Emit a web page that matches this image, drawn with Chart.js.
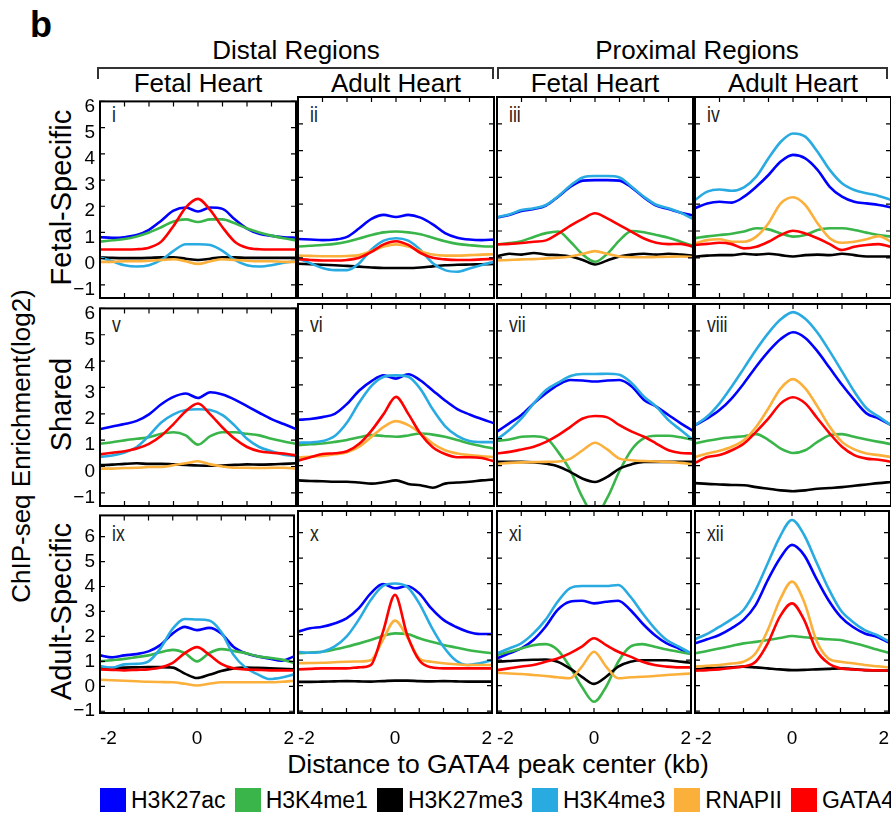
<!DOCTYPE html>
<html><head><meta charset="utf-8">
<script src="https://cdn.jsdelivr.net/npm/chart.js@4.4.1/dist/chart.umd.min.js"></script>
<style>
html,body{margin:0;padding:0;background:#fff;}
body{width:891px;height:817px;position:relative;overflow:hidden;font-family:"Liberation Sans",Arial,sans-serif;color:#000;}
canvas{position:absolute;}
.t{position:absolute;white-space:nowrap;}
.legend{position:absolute;left:100px;top:788px;display:flex;align-items:center;font-size:23px;line-height:24px;}
.legend .it{display:flex;align-items:center;margin-right:9px;}
.legend .bx{width:26px;height:24px;margin-right:5px;}
</style></head><body>
<script>
// ---------------- data ----------------
const xs = [-2,-1.75,-1.5,-1.25,-1,-0.75,-0.5,-0.25,0,0.25,0.5,0.75,1,1.25,1.5,1.75,2];
const seriesNames = ['H3K27ac','H3K4me1','H3K27me3','H3K4me3','RNAPII','GATA4'];
const seriesColors = ['#0000ff','#39b54a','#000000','#29abe2','#fbb03b','#ff0000'];
const yTicks = [-1,0,1,2,3,4,5,6];
const xTicks = [-2,0,2];
const xMinorTicks = [-2,-1.5,-1,-0.5,0,0.5,1,1.5,2];
const panelLabels = ['i','ii','iii','iv','v','vi','vii','viii','ix','x','xi','xii'];
const groupHeaders = ['Distal Regions','Proximal Regions'];
const colHeaders = ['Fetal Heart','Adult Heart','Fetal Heart','Adult Heart'];
const rowLabels = ['Fetal-Specific','Shared','Adult-Specific'];
const yTitle = 'ChIP-seq Enrichment(log2)';
const xTitle = 'Distance to GATA4 peak center (kb)';

// Row 1: Fetal-Specific
const i_H3K27ac  = [0.82,0.8,0.82,0.9,1.1,1.45,1.83,1.95,1.8,1.95,1.9,1.5,1.15,0.95,0.87,0.82,0.8];
const i_H3K4me1  = [0.65,0.7,0.75,0.85,1.0,1.2,1.42,1.5,1.4,1.5,1.5,1.35,1.15,1.0,0.88,0.78,0.7];
const i_H3K27me3 = [0.05,0.03,0.02,0.02,0.03,0.05,0.05,0.0,-0.05,0.0,0.05,0.05,0.03,0.03,0.03,0.03,0.03];
const i_H3K4me3  = [0.05,-0.1,-0.25,-0.3,-0.25,-0.05,0.3,0.55,0.55,0.52,0.3,-0.05,-0.25,-0.3,-0.25,-0.15,-0.1];
const i_RNAPII   = [-0.12,-0.12,-0.1,-0.1,-0.08,-0.05,-0.02,-0.1,-0.2,-0.1,-0.02,-0.05,-0.08,-0.1,-0.1,-0.12,-0.12];
const i_GATA4    = [0.35,0.35,0.35,0.36,0.42,0.65,1.25,1.95,2.28,1.85,1.2,0.65,0.42,0.36,0.35,0.35,0.35];

const ii_H3K27ac  = [0.7,0.68,0.66,0.68,0.78,1.1,1.45,1.6,1.52,1.6,1.5,1.25,0.92,0.75,0.68,0.66,0.68];
const ii_H3K4me1  = [0.42,0.45,0.48,0.52,0.6,0.72,0.85,0.95,0.98,0.95,0.88,0.75,0.62,0.52,0.47,0.43,0.42];
const ii_H3K27me3 = [-0.22,-0.24,-0.26,-0.28,-0.3,-0.33,-0.36,-0.38,-0.38,-0.38,-0.36,-0.32,-0.28,-0.26,-0.25,-0.24,-0.23];
const ii_H3K4me3  = [-0.02,-0.2,-0.38,-0.46,-0.46,-0.2,0.31,0.64,0.73,0.64,0.29,-0.2,-0.46,-0.52,-0.4,-0.27,-0.15];
const ii_RNAPII   = [0.08,0.07,0.06,0.06,0.07,0.1,0.25,0.42,0.5,0.42,0.25,0.12,0.08,0.08,0.1,0.12,0.13];
const ii_GATA4    = [-0.05,-0.08,-0.1,-0.1,-0.08,0.0,0.22,0.5,0.62,0.48,0.18,0.0,-0.06,-0.08,-0.08,-0.06,-0.04];

const iii_H3K27ac  = [1.5,1.6,1.75,1.82,1.95,2.28,2.65,2.88,2.9,2.9,2.88,2.62,2.25,1.95,1.82,1.68,1.58];
const iii_H3K4me1  = [0.5,0.55,0.62,0.78,0.92,0.98,0.6,0.12,-0.15,0.15,0.65,1.0,0.95,0.85,0.75,0.6,0.45];
const iii_H3K27me3 = [0.05,0.15,0.12,0.18,0.12,0.1,0.05,-0.08,-0.25,-0.1,0.05,0.12,0.15,0.12,0.15,0.12,0.08];
const iii_H3K4me3  = [1.52,1.62,1.78,1.85,1.97,2.3,2.7,3.0,3.05,3.05,3.0,2.65,2.28,1.98,1.85,1.68,1.45];
const iii_RNAPII   = [-0.1,-0.08,-0.06,-0.05,-0.02,0.0,0.05,0.15,0.25,0.15,0.05,0.02,0.02,0.03,0.04,0.05,0.03];
const iii_GATA4    = [0.5,0.52,0.55,0.6,0.65,0.9,1.2,1.45,1.66,1.47,1.22,0.97,0.72,0.56,0.51,0.52,0.42];

const iv_H3K27ac  = [1.85,2.03,2.09,2.06,2.28,2.65,3.09,3.59,3.84,3.71,3.28,2.65,2.28,2.09,2.03,1.97,1.88];
const iv_H3K4me1  = [0.73,0.8,0.85,0.9,0.98,1.1,1.06,0.91,0.79,0.85,1.04,1.1,1.1,1.04,0.94,0.85,0.79];
const iv_H3K27me3 = [0.05,0.08,0.1,0.1,0.15,0.12,0.15,0.1,0.05,0.1,0.12,0.1,0.15,0.1,0.05,0.05,0.05];
const iv_H3K4me3  = [2.16,2.47,2.55,2.5,2.63,3.03,3.71,4.33,4.64,4.52,3.96,3.28,2.78,2.53,2.41,2.31,2.16];
const iv_RNAPII   = [0.54,0.66,0.69,0.6,0.6,0.79,1.29,2.03,2.26,1.97,1.29,0.73,0.56,0.6,0.69,0.81,0.6];
const iv_GATA4    = [0.48,0.52,0.56,0.51,0.35,0.41,0.6,0.85,1.01,0.91,0.73,0.51,0.29,0.41,0.48,0.51,0.41];

// Row 2: Shared
const v_H3K27ac  = [1.42,1.52,1.61,1.73,1.98,2.36,2.64,2.77,2.6,2.82,2.73,2.54,2.29,2.04,1.8,1.61,1.42];
const v_H3K4me1  = [0.86,0.92,0.99,1.05,1.11,1.24,1.3,1.18,0.83,1.15,1.3,1.3,1.24,1.18,1.05,0.95,0.86];
const v_H3K27me3 = [0.05,0.07,0.1,0.12,0.1,0.1,0.08,0.06,0.04,0.03,0.04,0.06,0.08,0.07,0.08,0.1,0.12];
const v_H3K4me3  = [0.36,0.42,0.53,0.74,1.17,1.67,1.98,2.14,2.17,2.14,1.95,1.55,1.05,0.74,0.58,0.45,0.4];
const v_RNAPII   = [-0.08,-0.08,-0.06,-0.05,-0.02,-0.02,0.05,0.12,0.2,0.08,0.0,-0.05,-0.05,-0.06,-0.05,-0.05,-0.08];
const v_GATA4    = [0.46,0.52,0.58,0.68,0.86,1.17,1.61,2.1,2.39,1.98,1.48,1.05,0.74,0.58,0.52,0.49,0.42];

const vi_H3K27ac  = [1.7,1.73,1.8,1.92,2.29,2.79,3.14,3.35,3.23,3.39,3.16,2.79,2.42,2.1,1.9,1.73,1.57];
const vi_H3K4me1  = [0.76,0.79,0.82,0.88,0.95,1.05,1.13,1.1,1.07,1.12,1.19,1.15,1.07,0.95,0.82,0.72,0.63];
const vi_H3K27me3 = [-0.55,-0.57,-0.58,-0.6,-0.6,-0.63,-0.67,-0.62,-0.55,-0.68,-0.73,-0.82,-0.67,-0.63,-0.6,-0.55,-0.51];
const vi_H3K4me3  = [0.85,0.86,0.91,1.1,1.6,2.34,2.96,3.3,3.35,3.3,2.84,2.09,1.47,1.1,0.91,0.87,0.87];
const vi_RNAPII   = [0.3,0.33,0.36,0.42,0.5,0.7,1.07,1.44,1.65,1.5,1.19,0.82,0.57,0.45,0.39,0.35,0.32];
const vi_GATA4    = [0.18,0.31,0.43,0.46,0.53,0.81,1.3,1.92,2.55,1.92,1.18,0.68,0.43,0.31,0.31,0.28,0.16];

const vii_H3K27ac  = [1.26,1.57,1.88,2.31,2.69,3.0,3.18,3.16,3.12,3.16,3.18,2.94,2.44,2.19,1.88,1.57,1.29];
const vii_H3K4me1  = [0.92,0.97,1.07,1.09,1.02,0.5,-0.2,-1.2,-1.85,-1.2,-0.2,0.6,1.02,1.11,1.11,1.05,0.95];
const vii_H3K27me3 = [0.14,0.14,0.14,0.12,0.07,-0.03,-0.24,-0.49,-0.61,-0.42,-0.11,0.05,0.14,0.14,0.14,0.14,0.14];
const vii_H3K4me3  = [0.97,1.32,1.75,2.31,2.81,3.08,3.33,3.4,3.4,3.41,3.37,3.06,2.56,2.19,1.69,1.32,0.95];
const vii_RNAPII   = [0.07,0.1,0.12,0.13,0.14,0.15,0.26,0.57,0.85,0.6,0.26,0.2,0.17,0.15,0.14,0.1,0.05];
const vii_GATA4    = [0.45,0.51,0.6,0.7,0.88,1.13,1.44,1.75,1.84,1.79,1.5,1.26,1.07,0.82,0.57,0.47,0.45];

const viii_H3K27ac  = [1.5,1.75,2.06,2.5,3.06,3.68,4.24,4.7,4.95,4.74,4.24,3.62,3.0,2.44,1.94,1.75,1.5];
const viii_H3K4me1  = [0.82,0.92,1.0,1.05,1.09,1.17,0.95,0.63,0.47,0.57,0.88,1.13,1.17,1.07,0.97,0.88,0.8];
const viii_H3K27me3 = [-0.65,-0.68,-0.7,-0.72,-0.73,-0.8,-0.86,-0.92,-0.95,-0.92,-0.86,-0.83,-0.8,-0.75,-0.7,-0.65,-0.61];
const viii_H3K4me3  = [1.5,1.82,2.31,2.94,3.62,4.31,4.93,5.43,5.7,5.45,4.93,4.24,3.5,2.75,2.13,1.82,1.5];
const viii_RNAPII   = [0.32,0.45,0.55,0.7,0.95,1.44,2.13,2.87,3.21,2.87,2.19,1.44,0.88,0.6,0.45,0.39,0.32];
const viii_GATA4    = [0.1,0.32,0.39,0.57,0.82,1.26,1.75,2.31,2.54,2.31,1.75,1.19,0.7,0.39,0.26,0.22,0.14];

// Row 3: Adult-Specific
const ix_H3K27ac  = [1.24,1.16,1.24,1.29,1.4,1.66,2.12,2.38,2.25,2.34,2.12,1.59,1.33,1.2,1.11,1.03,1.2];
const ix_H3K4me1  = [1.0,1.05,1.1,1.17,1.24,1.37,1.46,1.33,1.0,1.33,1.49,1.42,1.33,1.2,1.14,1.07,0.94];
const ix_H3K27me3 = [0.72,0.73,0.75,0.76,0.77,0.77,0.75,0.51,0.33,0.46,0.61,0.72,0.75,0.74,0.72,0.7,0.68];
const ix_H3K4me3  = [0.81,0.75,0.88,0.9,1.0,1.53,2.31,2.7,2.68,2.64,2.18,1.27,0.75,0.48,0.29,0.35,0.48];
const ix_RNAPII   = [0.26,0.24,0.22,0.2,0.18,0.17,0.16,0.1,0.03,0.1,0.16,0.16,0.16,0.16,0.16,0.18,0.22];
const ix_GATA4    = [0.68,0.66,0.64,0.66,0.68,0.75,0.94,1.33,1.57,1.27,0.9,0.72,0.68,0.66,0.64,0.64,0.64];

const x_H3K27ac  = [2.12,2.25,2.31,2.44,2.64,3.03,3.62,3.99,3.82,3.91,3.62,3.03,2.58,2.31,2.12,2.03,2.03];
const x_H3K4me1  = [1.27,1.3,1.33,1.42,1.53,1.65,1.79,1.95,2.05,2.03,1.86,1.72,1.6,1.5,1.4,1.33,1.27];
const x_H3K27me3 = [0.15,0.15,0.16,0.17,0.18,0.17,0.16,0.18,0.2,0.2,0.18,0.17,0.18,0.17,0.16,0.16,0.16];
const x_H3K4me3  = [1.33,1.29,1.33,1.53,1.92,2.58,3.36,3.91,4.01,3.88,3.23,2.31,1.53,1.0,0.81,0.88,1.0];
const x_RNAPII   = [0.88,0.89,0.9,0.92,0.94,0.95,1.0,1.79,2.55,1.92,1.07,0.94,0.88,0.84,0.81,0.81,0.81];
const x_GATA4    = [0.64,0.66,0.68,0.68,0.68,0.72,0.81,2.1,3.56,2.0,1.0,0.72,0.68,0.68,0.68,0.68,0.68];

const xi_H3K27ac  = [1.07,1.27,1.46,1.79,2.31,2.97,3.29,3.33,3.23,3.29,3.33,2.97,2.44,1.99,1.66,1.46,1.24];
const xi_H3K4me1  = [1.2,1.33,1.46,1.59,1.63,1.4,0.75,-0.04,-0.63,-0.04,0.94,1.53,1.63,1.53,1.42,1.33,1.24];
const xi_H3K27me3 = [0.94,0.97,1.0,1.02,1.03,0.94,0.68,0.35,0.07,0.35,0.75,0.94,1.0,1.0,1.0,0.95,0.9];
const xi_H3K4me3  = [1.27,1.46,1.66,2.05,2.58,3.29,3.82,3.91,3.91,3.91,3.95,3.49,2.84,2.25,1.79,1.53,1.27];
const xi_RNAPII   = [0.51,0.48,0.46,0.42,0.38,0.33,0.29,0.75,1.33,0.75,0.29,0.33,0.35,0.38,0.42,0.45,0.48];
const xi_GATA4    = [0.61,0.68,0.75,0.81,0.94,1.07,1.27,1.53,1.86,1.59,1.33,1.14,0.94,0.81,0.75,0.72,0.72];

const xii_H3K27ac  = [1.66,1.82,1.99,2.25,2.58,3.16,4.14,4.99,5.52,5.12,4.21,3.36,2.71,2.31,2.05,1.92,1.69];
const xii_H3K4me1  = [1.27,1.36,1.46,1.56,1.66,1.72,1.79,1.87,1.95,1.9,1.86,1.82,1.79,1.68,1.56,1.42,1.29];
const xii_H3K27me3 = [0.64,0.68,0.7,0.72,0.75,0.72,0.68,0.64,0.61,0.62,0.64,0.66,0.68,0.65,0.61,0.6,0.59];
const xii_H3K4me3  = [1.82,2.03,2.31,2.6,2.97,3.75,4.8,5.84,6.5,5.91,4.86,3.82,2.97,2.51,2.18,1.99,1.73];
const xii_RNAPII   = [0.75,0.78,0.81,0.87,0.94,1.27,2.18,3.36,4.08,3.29,1.79,1.07,0.94,0.88,0.81,0.76,0.72];
const xii_GATA4    = [0.59,0.61,0.64,0.7,0.75,0.94,1.66,2.71,3.23,2.58,1.4,0.88,0.68,0.64,0.61,0.6,0.59];

const panelSeries = [
  [i_H3K27ac,i_H3K4me1,i_H3K27me3,i_H3K4me3,i_RNAPII,i_GATA4],
  [ii_H3K27ac,ii_H3K4me1,ii_H3K27me3,ii_H3K4me3,ii_RNAPII,ii_GATA4],
  [iii_H3K27ac,iii_H3K4me1,iii_H3K27me3,iii_H3K4me3,iii_RNAPII,iii_GATA4],
  [iv_H3K27ac,iv_H3K4me1,iv_H3K27me3,iv_H3K4me3,iv_RNAPII,iv_GATA4],
  [v_H3K27ac,v_H3K4me1,v_H3K27me3,v_H3K4me3,v_RNAPII,v_GATA4],
  [vi_H3K27ac,vi_H3K4me1,vi_H3K27me3,vi_H3K4me3,vi_RNAPII,vi_GATA4],
  [vii_H3K27ac,vii_H3K4me1,vii_H3K27me3,vii_H3K4me3,vii_RNAPII,vii_GATA4],
  [viii_H3K27ac,viii_H3K4me1,viii_H3K27me3,viii_H3K4me3,viii_RNAPII,viii_GATA4],
  [ix_H3K27ac,ix_H3K4me1,ix_H3K27me3,ix_H3K4me3,ix_RNAPII,ix_GATA4],
  [x_H3K27ac,x_H3K4me1,x_H3K27me3,x_H3K4me3,x_RNAPII,x_GATA4],
  [xi_H3K27ac,xi_H3K4me1,xi_H3K27me3,xi_H3K4me3,xi_RNAPII,xi_GATA4],
  [xii_H3K27ac,xii_H3K4me1,xii_H3K27me3,xii_H3K4me3,xii_RNAPII,xii_GATA4]
];

// ---------------- layout ----------------
const FONT = '"Liberation Sans", Arial, sans-serif';
const colLeft = [100,298,497,695];
const PW = 196;
const rowTop = [97,304,511];
const PH = [201,202,202];
const yRanges = [[-1.5,6],[-1.5,6],[-1.07,6.85]];
const yLabelOffset = [5,5,0];
const M = {l:45, t:12, r:12, b:45};

function text(str, o){
  const d = document.createElement('div');
  d.className = 't';
  d.textContent = str;
  const fs = o.size;
  d.style.fontSize = fs+'px';
  d.style.lineHeight = fs+'px';
  if (o.weight) d.style.fontWeight = o.weight;
  if (o.color) d.style.color = o.color;
  const asc = 0.8465*fs;
  if (o.rotate){
    const W = 500;
    d.style.width = W+'px';
    d.style.textAlign = 'center';
    d.style.left = (o.x - W/2)+'px';
    d.style.top = (o.y - asc)+'px';
    d.style.transformOrigin = (W/2)+'px '+asc+'px';
    d.style.transform = 'rotate(-90deg)';
  } else {
    d.style.top = (o.y - asc)+'px';
    d.style.left = o.x+'px';
    d.style.transformOrigin = '0 0';
    let tr = '';
    if (o.align === 'center') tr += 'translateX(-50%) ';
    if (o.sx) tr += 'scaleX('+o.sx+')';
    if (tr) d.style.transform = tr;
  }
  document.body.appendChild(d);
  return d;
}
function box(l,t,w,h,css){
  const d = document.createElement('div');
  d.style.position='absolute';
  d.style.left=l+'px'; d.style.top=t+'px'; d.style.width=w+'px'; d.style.height=h+'px';
  Object.assign(d.style, css);
  document.body.appendChild(d);
}

text('b', {x:30, y:37, size:36, weight:'bold'});
text(groupHeaders[0], {x:296, y:59, size:26, align:'center'});
text(groupHeaders[1], {x:697, y:59, size:26, align:'center'});
box(97,67,393,10,{borderTop:'2px solid #333',borderLeft:'2px solid #333',borderRight:'2px solid #333'});
box(497,67,387,10,{borderTop:'2px solid #333',borderLeft:'2px solid #333',borderRight:'2px solid #333'});
colHeaders.forEach((h,c)=> text(h, {x: colLeft[c]+PW/2, y:92, size:26, align:'center'}));
rowLabels.forEach((h,r)=> text(h, {x:72, y: rowTop[r]+PH[r]/2, size:29, rotate:true}));
text(yTitle, {x:30, y:446, size:26, rotate:true});
text(xTitle, {x:498, y:773, size:26.5, align:'center'});
const numBase = [26,29,31];
panelLabels.forEach((p,k)=>{
  const r = Math.floor(k/4), c = k%4;
  text(p, {x: colLeft[c]+12, y: rowTop[r]+numBase[r], size:22, color:'#222', sx:0.8});
});

// legend
const lg = document.createElement('div');
lg.className = 'legend';
seriesNames.forEach((n,j)=>{
  const it = document.createElement('div'); it.className='it';
  const b = document.createElement('div'); b.className='bx'; b.style.background = seriesColors[j];
  const s = document.createElement('span'); s.textContent = n;
  it.appendChild(b); it.appendChild(s); lg.appendChild(it);
});
document.body.appendChild(lg);

// ---------------- charts ----------------
const boxPlugin = {
  id:'boxTicks',
  afterDraw(chart){
    const {ctx, chartArea:a, scales:{x,y}} = chart;
    ctx.save();
    ctx.strokeStyle='#000';
    ctx.lineWidth=1.2;
    ctx.beginPath();
    for (const v of yTicks){
      if (v < y.min || v > y.max) continue;
      const py = y.getPixelForValue(v);
      ctx.moveTo(a.left,py); ctx.lineTo(a.left+5,py);
      ctx.moveTo(a.right,py); ctx.lineTo(a.right-5,py);
    }
    for (const v of xMinorTicks){
      const px = x.getPixelForValue(v);
      ctx.moveTo(px,a.top); ctx.lineTo(px,a.top+5);
      ctx.moveTo(px,a.bottom); ctx.lineTo(px,a.bottom-5);
    }
    ctx.stroke();
    ctx.lineWidth=2;
    ctx.strokeRect(a.left,a.top,a.right-a.left,a.bottom-a.top);
    ctx.restore();
  }
};

panelSeries.forEach((series,k)=>{
  const r = Math.floor(k/4), c = k%4;
  const cv = document.createElement('canvas');
  const w = PW + M.l + M.r, h = PH[r] + M.t + M.b;
  cv.width = w; cv.height = h;
  cv.style.left = (colLeft[c]-M.l)+'px';
  cv.style.top = (rowTop[r]-M.t)+'px';
  cv.style.width = w+'px'; cv.style.height = h+'px';
  document.body.appendChild(cv);
  new Chart(cv, {
    type:'line',
    data:{ datasets: series.map((arr,j)=>({
      label: seriesNames[j],
      data: xs.map((xv,i)=>({x:xv, y:arr[i]})),
      borderColor: seriesColors[j],
      backgroundColor: seriesColors[j],
      borderWidth: 2.6,
      pointRadius: 0,
      cubicInterpolationMode: 'monotone',
      fill: false,
      order: 6-j
    }))},
    options:{
      responsive:false, animation:false, devicePixelRatio:1, events:[],
      layout:{padding:{left:0, top:M.t, right:M.r, bottom:0}},
      plugins:{legend:{display:false}, tooltip:{enabled:false}},
      scales:{
        x:{ type:'linear', min:-2, max:2,
            grid:{display:false, drawTicks:false}, border:{display:false},
            ticks:{display: r===2, align:'inner', padding:14, font:{family:FONT, size:19}, color:'#000',
                   callback: v => String(v)},
            afterBuildTicks: s => { s.ticks = xTicks.map(v=>({value:v})); },
            afterFit: s => { s.height = M.b; } },
        y:{ type:'linear', min:yRanges[r][0], max:yRanges[r][1],
            grid:{display:false, drawTicks:false}, border:{display:false},
            ticks:{display: c===0, padding:5, labelOffset: yLabelOffset[r], font:{family:FONT, size:19}, color:'#000',
                   callback: v => v < 0 ? '\u2212' + Math.abs(v) : String(v)},
            afterBuildTicks: s => { s.ticks = yTicks.filter(v => v >= s.min && v <= s.max).map(v=>({value:v})); },
            afterFit: s => { s.width = M.l; } }
      }
    },
    plugins:[boxPlugin]
  });
});
</script>
</body></html>
